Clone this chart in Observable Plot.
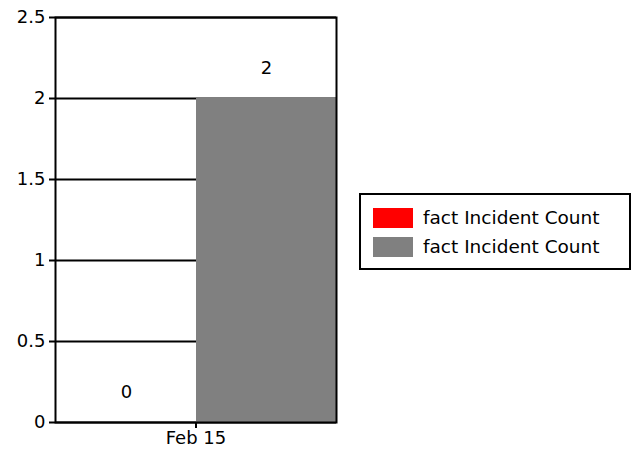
<!DOCTYPE html>
<html>
<head>
<meta charset="utf-8">
<script src="https://cdn.jsdelivr.net/npm/d3@7"></script>
<script src="https://cdn.jsdelivr.net/npm/@observablehq/plot@0.6"></script>
<style>
  html, body { margin: 0; padding: 0; background: #fff; }
  #wrap { position: relative; width: 631px; height: 457px; font-family: "DejaVu Sans", sans-serif; }
  #legend { position: absolute; left: 359px; top: 193px; width: 272px; height: 77px; box-sizing: border-box;
            border: 2px solid #000; background: #fff; font-size: 18.5px; color: #000; }
  .item { position: absolute; left: 12px; display: flex; align-items: center; }
  .sw { width: 40px; height: 20px; margin-right: 10px; }
</style>
</head>
<body>
<div id="wrap"></div>
<script>
const categories = ["Feb 15"];
const seriesIds = ["s1", "s2"];
const seriesNames = ["fact Incident Count", "fact Incident Count"];
const seriesColors = ["#ff0000", "#808080"];
const values = [[0], [2]]; // values[series][category]
const yTicks = [0, 0.5, 1, 1.5, 2, 2.5];

const data = [];
seriesIds.forEach((s, i) => categories.forEach((c, j) => data.push({date: c, series: s, value: values[i][j]})));

const chart = Plot.plot({
  width: 631,
  height: 457,
  marginLeft: 55,
  marginRight: 295,
  marginTop: 17,
  marginBottom: 35,
  style: {fontFamily: "DejaVu Sans, sans-serif", fontSize: "18px", color: "#000", background: "#fff"},
  fx: {domain: categories, padding: 0, label: null},
  x: {domain: seriesIds, padding: 0, axis: null},
  y: {domain: [0, 2.5], label: null},
  color: {domain: seriesIds, range: seriesColors},
  marks: [
    Plot.gridY(yTicks, {stroke: "#000", strokeOpacity: 1, strokeWidth: 2}),
    Plot.barY(data, {fx: "date", x: "series", y: "value", fill: "series"}),
    Plot.text(data, {fx: "date", x: "series", y: "value", text: d => String(d.value), dy: -30, fontSize: 18, fill: "#000"}),
    Plot.frame({stroke: "#000", strokeWidth: 2}),
    Plot.axisY({ticks: yTicks, tickSize: 6, tickPadding: 4, fontSize: 18, strokeWidth: 2, label: null, tickFormat: d => String(d)}),
    Plot.axisFx({anchor: "bottom", tickSize: 6, tickPadding: 3, fontSize: 18, strokeWidth: 2, label: null})
  ]
});
const wrap = document.getElementById("wrap");
wrap.appendChild(chart);

const legend = document.createElement("div");
legend.id = "legend";
seriesNames.forEach((name, i) => {
  const it = document.createElement("div");
  it.className = "item";
  it.style.top = (12 + i * 29) + "px";
  const sw = document.createElement("div");
  sw.className = "sw";
  sw.style.background = seriesColors[i];
  const t = document.createElement("span");
  t.textContent = name;
  it.appendChild(sw); it.appendChild(t);
  legend.appendChild(it);
});
wrap.appendChild(legend);
</script>
</body>
</html>
